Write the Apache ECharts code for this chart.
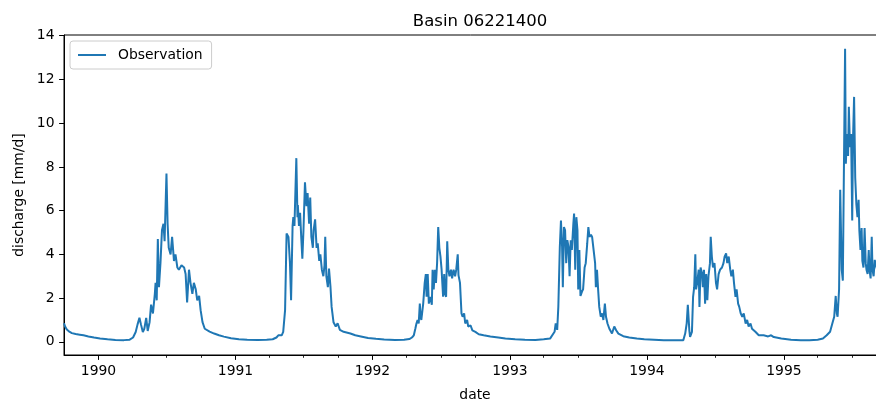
<!DOCTYPE html>
<html><head><meta charset="utf-8">
<script src="https://cdn.jsdelivr.net/npm/echarts@6/dist/echarts.min.js"></script>
<style>html,body{margin:0;padding:0;background:#fff}#c{width:876px;height:403px}</style>
</head><body><div id="c"></div>
<script>
const dates = [
'1989-10-01','1989-10-04','1989-10-08','1989-10-14','1989-10-22','1989-11-01','1989-11-12','1989-11-22','1989-12-05','1989-12-20',
'1990-01-05','1990-01-25','1990-02-15','1990-03-10','1990-03-25','1990-04-03','1990-04-10','1990-04-15','1990-04-20','1990-04-24',
'1990-04-29','1990-05-03','1990-05-08','1990-05-12','1990-05-17','1990-05-21','1990-05-26','1990-05-31','1990-06-02','1990-06-05',
'1990-06-08','1990-06-11','1990-06-15','1990-06-19','1990-06-23','1990-06-26','1990-07-01','1990-07-04','1990-07-07','1990-07-12',
'1990-07-16','1990-07-21','1990-07-25','1990-07-30','1990-08-03','1990-08-10','1990-08-17','1990-08-21','1990-08-25','1990-08-30',
'1990-09-03','1990-09-08','1990-09-12','1990-09-17','1990-09-21','1990-09-26','1990-09-30','1990-10-05','1990-10-11','1990-10-16',
'1990-10-24','1990-11-05','1990-11-18','1990-12-01','1990-12-20','1991-01-10','1991-02-01','1991-03-01','1991-03-25','1991-04-10',
'1991-04-20','1991-04-25','1991-04-29','1991-05-04','1991-05-08','1991-05-13','1991-05-17','1991-05-22','1991-05-26','1991-05-29',
'1991-06-02','1991-06-04','1991-06-07','1991-06-12','1991-06-15','1991-06-16','1991-06-19','1991-06-22','1991-06-25','1991-06-28',
'1991-07-01','1991-07-05','1991-07-09','1991-07-12','1991-07-16','1991-07-19','1991-07-22','1991-07-26','1991-07-28','1991-08-01',
'1991-08-05','1991-08-08','1991-08-12','1991-08-15','1991-08-19','1991-08-23','1991-08-26','1991-08-28','1991-08-31','1991-09-04',
'1991-09-07','1991-09-11','1991-09-14','1991-09-19','1991-09-25','1991-09-30','1991-10-06','1991-10-16','1991-11-03','1991-11-16',
'1991-12-01','1991-12-20','1992-01-10','1992-02-01','1992-03-01','1992-03-25','1992-04-08','1992-04-15','1992-04-20','1992-04-24',
'1992-04-27','1992-04-30','1992-05-03','1992-05-06','1992-05-08','1992-05-10','1992-05-15','1992-05-19','1992-05-22','1992-05-24',
'1992-05-27','1992-05-30','1992-06-03','1992-06-07','1992-06-09','1992-06-12','1992-06-15','1992-06-18','1992-06-21','1992-06-24',
'1992-06-27','1992-06-30','1992-07-03','1992-07-07','1992-07-10','1992-07-12','1992-07-15','1992-07-18','1992-07-21','1992-07-24',
'1992-07-28','1992-07-31','1992-08-04','1992-08-08','1992-08-11','1992-08-15','1992-08-17','1992-08-21','1992-08-25','1992-08-28',
'1992-09-01','1992-09-04','1992-09-09','1992-09-12','1992-09-18','1992-09-23','1992-10-01','1992-10-10','1992-10-23','1992-11-10',
'1992-12-01','1992-12-20','1993-01-15','1993-02-10','1993-03-10','1993-04-01','1993-04-18','1993-04-30','1993-05-03','1993-05-07',
'1993-05-10','1993-05-14','1993-05-17','1993-05-20','1993-05-22','1993-05-25','1993-05-28','1993-05-31','1993-06-03','1993-06-06',
'1993-06-09','1993-06-12','1993-06-15','1993-06-19','1993-06-21','1993-06-24','1993-06-27','1993-06-30','1993-07-02','1993-07-05',
'1993-07-08','1993-07-12','1993-07-15','1993-07-19','1993-07-22','1993-07-26','1993-07-29','1993-08-01','1993-08-05','1993-08-08',
'1993-08-12','1993-08-16','1993-08-18','1993-08-21','1993-08-24','1993-08-27','1993-08-31','1993-09-04','1993-09-07','1993-09-11',
'1993-09-14','1993-09-18','1993-09-23','1993-09-30','1993-10-06','1993-10-11','1993-10-17','1993-10-30','1993-11-15','1993-12-05',
'1993-12-25','1994-01-20','1994-02-15','1994-03-15','1994-04-08','1994-04-13','1994-04-17','1994-04-20','1994-04-24','1994-04-26',
'1994-05-01','1994-05-04','1994-05-07','1994-05-10','1994-05-12','1994-05-15','1994-05-19','1994-05-21','1994-05-24','1994-05-28',
'1994-05-30','1994-06-02','1994-06-05','1994-06-08','1994-06-11','1994-06-14','1994-06-18','1994-06-20','1994-06-23','1994-06-26',
'1994-06-30','1994-07-04','1994-07-07','1994-07-11','1994-07-15','1994-07-20','1994-07-24','1994-07-27','1994-07-31','1994-08-03',
'1994-08-07','1994-08-11','1994-08-14','1994-08-18','1994-08-21','1994-08-25','1994-08-28','1994-09-01','1994-09-04','1994-09-08',
'1994-09-12','1994-09-16','1994-09-21','1994-09-25','1994-09-29','1994-10-04','1994-10-08','1994-10-17','1994-10-26','1994-11-08',
'1994-11-20','1994-11-28','1994-12-05','1994-12-25','1995-01-20','1995-02-15','1995-03-10','1995-04-01','1995-04-15','1995-04-25',
'1995-05-04','1995-05-10','1995-05-15','1995-05-19','1995-05-22','1995-05-24','1995-05-28','1995-05-31','1995-06-04','1995-06-07',
'1995-06-09','1995-06-13','1995-06-15','1995-06-18','1995-06-21','1995-06-23','1995-06-26','1995-06-29','1995-07-02','1995-07-04',
'1995-07-07','1995-07-10','1995-07-13','1995-07-16','1995-07-19','1995-07-21','1995-07-24','1995-07-27','1995-07-29','1995-08-01',
'1995-08-04','1995-08-07','1995-08-09','1995-08-12','1995-08-15','1995-08-17','1995-08-20','1995-08-23','1995-08-25','1995-08-28',
'1995-08-31','1995-09-02','1995-09-08','1995-09-15','1995-09-22','1995-09-30'
];
const discharge = [
0.85,0.7,0.58,0.48,0.4,0.36,0.33,0.3,0.25,0.2,
0.15,0.12,0.09,0.08,0.1,0.2,0.45,0.8,1.1,0.8,
0.45,0.6,1.1,0.5,0.9,1.7,1.3,2.2,2.7,1.9,
4.7,2.5,3.6,5.1,5.4,4.6,7.7,5.4,4.3,4.0,
4.8,3.7,4.0,3.4,3.3,3.5,3.4,3.1,1.8,3.3,
2.7,2.2,2.7,2.4,1.9,2.1,1.45,0.9,0.6,0.55,
0.47,0.38,0.3,0.24,0.17,0.12,0.1,0.09,0.1,0.12,
0.2,0.3,0.23,0.3,0.46,1.45,4.95,4.8,3.6,1.9,
5.3,5.7,5.3,8.4,5.7,6.25,5.3,5.9,4.8,3.8,
5.1,7.3,6.2,6.8,5.4,6.6,4.8,4.3,5.1,5.6,
4.3,4.5,3.7,4.0,3.3,3.0,3.5,4.8,3.0,2.5,
3.35,2.5,1.6,0.9,0.7,0.85,0.55,0.46,0.38,0.3,
0.25,0.18,0.14,0.11,0.09,0.1,0.13,0.2,0.3,0.6,
0.84,1.0,0.84,1.75,1.15,1.0,1.75,2.7,3.1,2.06,
3.1,1.75,2.06,1.7,3.3,2.4,3.3,2.7,3.6,5.25,
4.3,3.9,3.3,2.06,3.1,2.2,2.06,4.6,3.3,3.0,
3.3,2.9,3.3,3.0,3.3,4.0,3.05,2.7,1.3,1.15,
1.3,0.84,1.0,0.7,0.76,0.53,0.46,0.35,0.3,0.25,
0.2,0.15,0.12,0.1,0.09,0.12,0.15,0.46,0.84,0.55,
1.6,4.35,5.55,4.35,2.5,5.25,5.1,3.6,4.65,4.35,
3.0,4.65,4.2,5.4,5.87,3.3,5.7,5.1,2.4,4.2,
2.1,2.3,2.4,3.4,3.6,4.5,5.25,4.8,4.9,4.8,
4.8,3.6,2.5,3.3,2.4,1.6,1.15,1.3,1.0,1.75,
1.15,0.84,0.6,0.38,0.7,0.53,0.38,0.26,0.2,0.15,
0.12,0.1,0.08,0.07,0.08,0.38,0.84,1.7,0.53,0.23,
0.46,2.06,2.5,4.0,2.4,2.7,3.3,1.6,3.4,3.1,
2.5,3.3,1.75,3.1,1.9,3.0,3.6,4.8,3.9,3.4,
3.6,2.7,2.4,3.1,3.3,3.4,3.6,3.9,4.05,3.6,
3.9,3.3,3.0,3.3,2.7,2.06,2.4,1.75,1.6,1.3,
1.15,1.3,0.84,1.0,0.7,0.84,0.6,0.46,0.3,0.3,
0.25,0.3,0.22,0.15,0.1,0.08,0.08,0.1,0.15,0.3,
0.46,0.84,1.15,2.1,1.3,1.15,2.4,6.95,3.3,2.8,
2.8,13.4,8.15,9.5,8.5,10.75,8.9,9.5,5.55,9.2,
11.2,7.5,6.3,5.7,6.5,5.1,4.2,5.2,3.7,3.4,
5.2,3.6,3.3,3.1,4.2,3.3,2.9,4.8,3.3,3.0,
3.75,3.6,3.2,2.8,3.0,2.6
];
const yearTicks = ['1990-01-01','1991-01-01','1992-01-01','1993-01-01','1994-01-01','1995-01-01'];
const quarterTicks = [
'1990-04-01','1990-07-01','1990-10-01','1991-04-01','1991-07-01','1991-10-01',
'1992-04-01','1992-07-01','1992-10-01','1993-04-01','1993-07-01','1993-10-01',
'1994-04-01','1994-07-01','1994-10-01','1995-04-01','1995-07-01'
];
const yTicks = [0, 2, 4, 6, 8, 10, 12, 14];

const P = s => Date.UTC(+s.slice(0, 4), +s.slice(5, 7) - 1, +s.slice(8, 10));
const FONT = 'DejaVu Sans';
const chart = echarts.init(document.getElementById('c'), null, {renderer: 'canvas'});
const xMin = P('1989-10-01'), xMax = P('1995-09-30');
chart.setOption({
  animation: false,
  backgroundColor: '#fff',
  textStyle: {fontFamily: FONT, color: '#000'},
  title: {
    text: 'Basin 06221400', left: 475, top: 8, textAlign: 'center',
    textStyle: {fontFamily: FONT, fontSize: 16.5, fontWeight: 'normal', color: '#000'}
  },
  legend: {
    show: true, orient: 'horizontal', align: 'left',
    left: 70, top: 41, right: 'auto', bottom: 'auto',
    padding: [7, 9, 7, 8], itemWidth: 28, itemHeight: 2,
    backgroundColor: 'rgba(255,255,255,0.8)', borderColor: '#cccccc', borderWidth: 1, borderRadius: 3,
    textStyle: {fontFamily: FONT, fontSize: 13.9, color: '#000', padding: [0, 0, 0, 7]},
    data: [{name: 'Observation', icon: 'rect'}]
  },
  grid: {left: 64, top: 35, right: -10, bottom: 48, outerBoundsMode: 'none', containLabel: false,
    show: true, borderColor: '#000', borderWidth: 1, backgroundColor: 'transparent'},
  xAxis: [{
    type: 'value', min: xMin, max: xMax,
    name: 'date', nameLocation: 'middle', nameGap: 33,
    nameTextStyle: {fontFamily: FONT, fontSize: 13.9, color: '#000'},
    axisLine: {show: true, onZero: false, lineStyle: {color: '#000', width: 1}},
    axisTick: {show: true, length: 4.9, lineStyle: {color: '#000', width: 1}, customValues: yearTicks.map(P)},
    axisLabel: {show: true, margin: 9, fontFamily: FONT, fontSize: 13.9, color: '#000',
      customValues: yearTicks.map(P), formatter: v => String(new Date(v).getUTCFullYear())},
    splitLine: {show: false}
  }, {
    type: 'value', min: xMin, max: xMax, position: 'bottom',
    axisLine: {show: false, onZero: false},
    axisTick: {show: true, length: 2.8, lineStyle: {color: '#000', width: 0.85}, customValues: quarterTicks.map(P)},
    axisLabel: {show: false},
    splitLine: {show: false}
  }],
  yAxis: {
    type: 'value', min: -0.6, max: 14.03,
    name: 'discharge [mm/d]', nameLocation: 'middle', nameGap: 38,
    nameTextStyle: {fontFamily: FONT, fontSize: 13.9, color: '#000'},
    axisLine: {show: true, onZero: false, lineStyle: {color: '#000', width: 1}},
    axisTick: {show: true, length: 4.9, lineStyle: {color: '#000', width: 1}, customValues: yTicks},
    axisLabel: {show: true, margin: 9.5, fontFamily: FONT, fontSize: 13.9, color: '#000', customValues: yTicks},
    splitLine: {show: false}
  },
  series: [{
    name: 'Observation', type: 'line', xAxisIndex: 0, symbol: 'none', showSymbol: false,
    lineStyle: {color: '#1f77b4', width: 2}, itemStyle: {color: '#1f77b4'},
    data: dates.map((d, i) => [P(d), discharge[i]])
  }]
});
</script>
</body></html>
